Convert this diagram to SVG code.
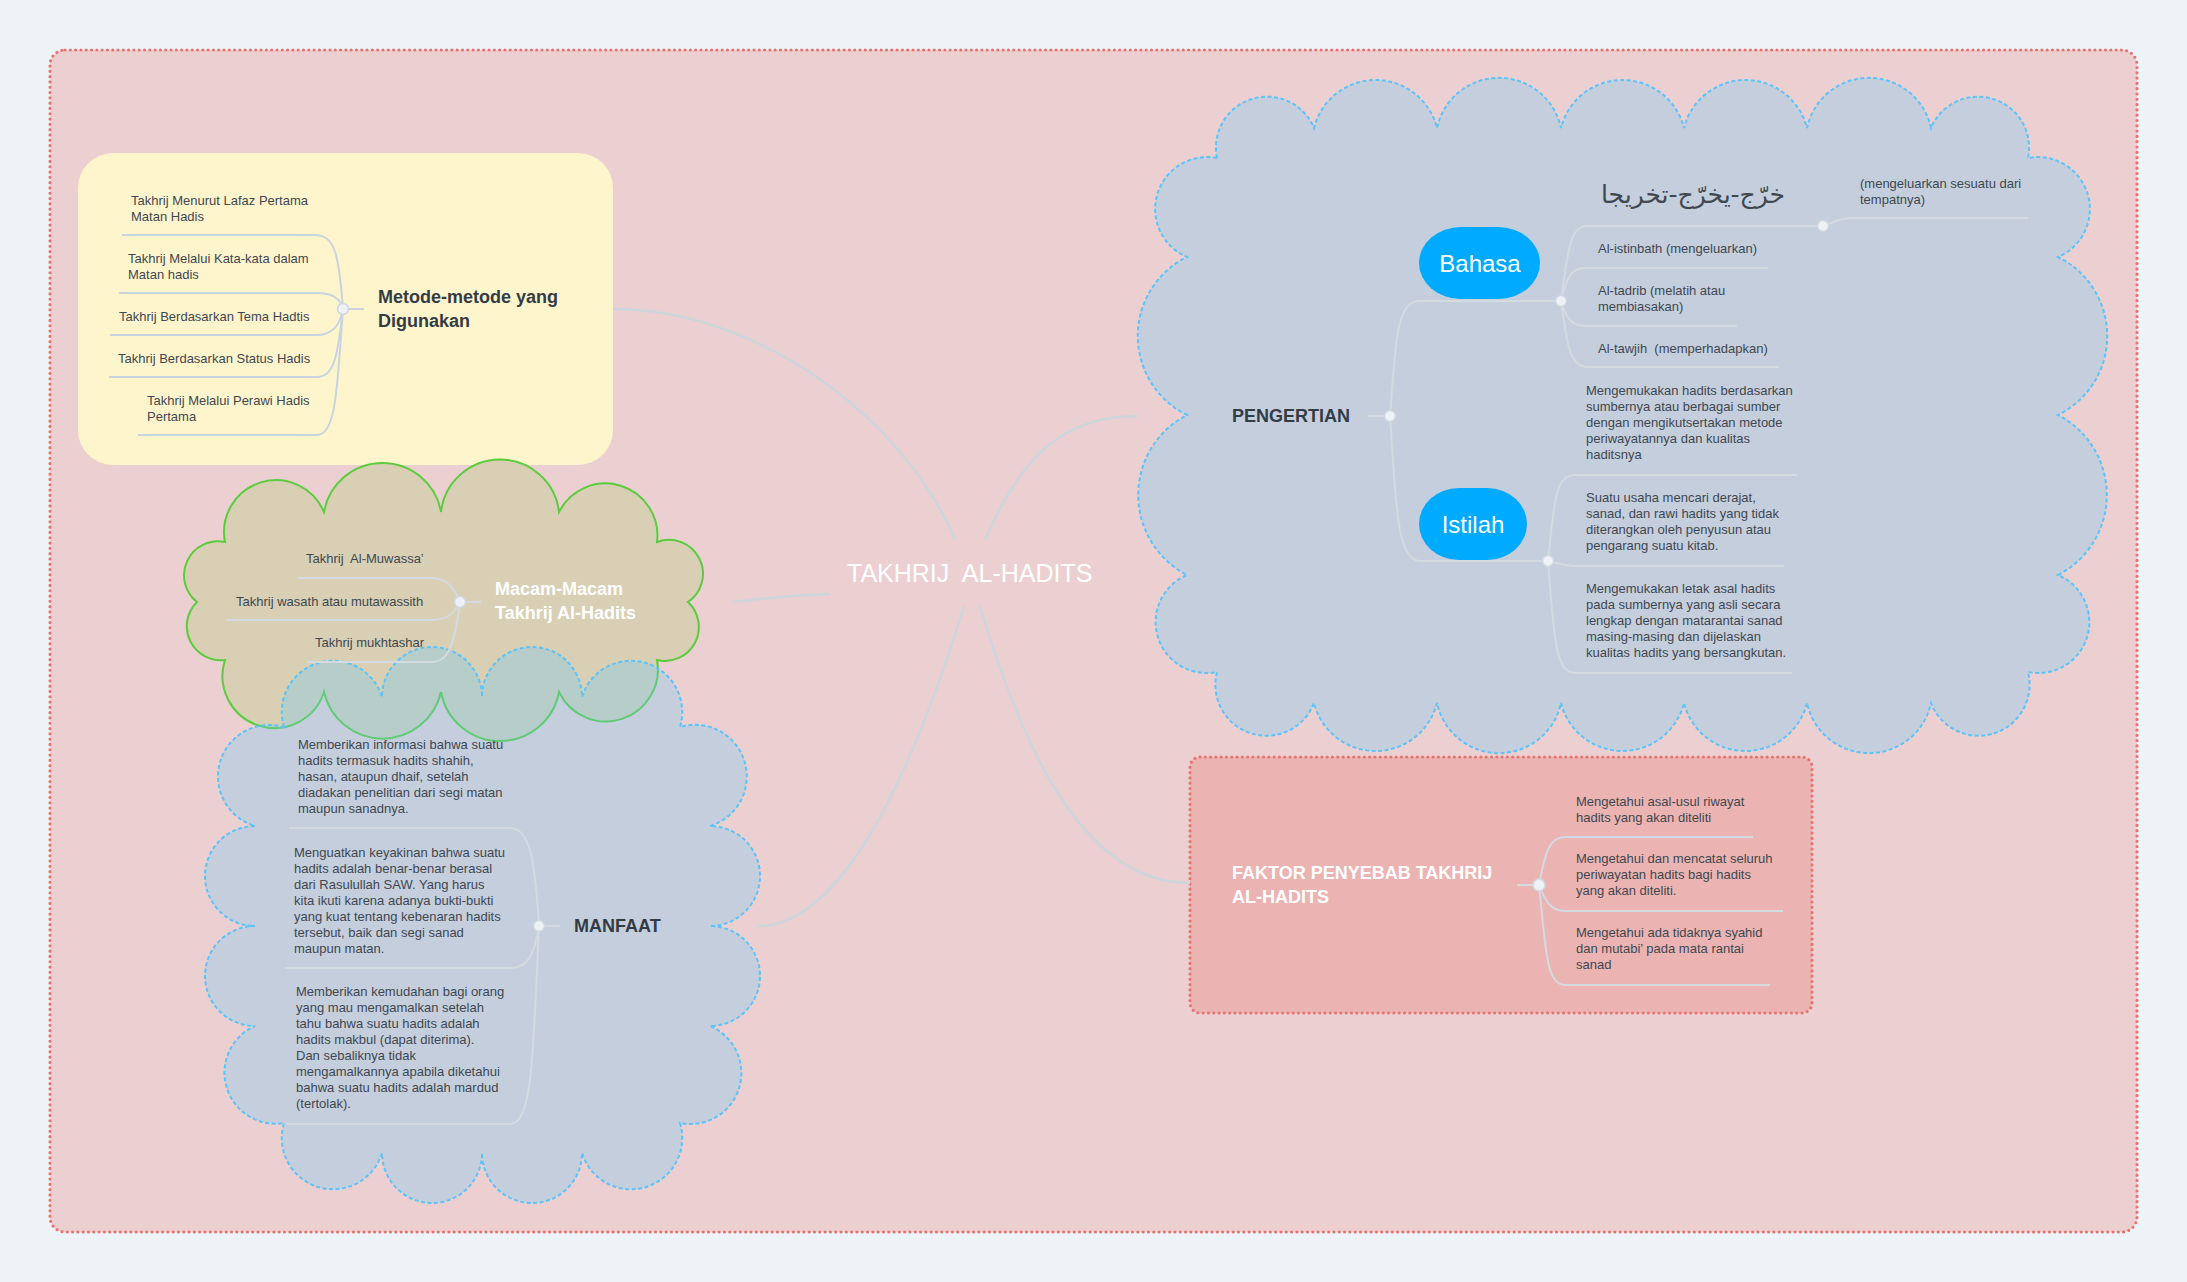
<svg xmlns="http://www.w3.org/2000/svg" width="2187" height="1282" viewBox="0 0 2187 1282">
<style>
.t{font-family:"Liberation Sans",Arial,sans-serif;font-size:13px;fill:#3f4850}
.b{font-family:"Liberation Sans",Arial,sans-serif;font-size:18px;font-weight:bold;fill:#323c45}
.bw{font-family:"Liberation Sans",Arial,sans-serif;font-size:18px;font-weight:bold;fill:#ffffff}
.pill{font-family:"Liberation Sans",Arial,sans-serif;font-size:24px;fill:#ffffff;text-anchor:middle}
.m{fill:none;stroke:#cdd6dd;stroke-width:2.5}
.c{fill:none;stroke:#d3dae0;stroke-width:2}
.cy{fill:none;stroke:#c9d4e1;stroke-width:2}
.j{fill:#eef2f6;stroke:#d0d8df;stroke-width:1.5}
.dot{stroke:#e8736f;stroke-width:3.2;stroke-dasharray:0 5.3;stroke-linecap:round}
.cloudb{fill:rgba(106,201,249,0.3);stroke:#5bc4fa;stroke-width:2;stroke-dasharray:4 2.5}
</style>
<rect x="0" y="0" width="2187" height="1282" fill="#eef3f7"/>
<rect id="canvas-boundary" class="dot" x="50" y="50" width="2087" height="1182" rx="15" fill="#ecd0d1"/>

<g id="boundary-metode"><rect x="78" y="153" width="535" height="312" rx="35" fill="#fff5cc"/></g>
<g id="boundary-macam"><path d="M225,542 A52 52 0 0 1 324,512 A59.4 59.4 0 0 1 441,512 A59.4 59.4 0 0 1 559,512 A52 52 0 0 1 657,542 A34 34 0 0 1 688,602 A34 34 0 0 1 657,660 A52 52 0 0 1 559,692 A60 60 0 0 1 441,692 A60 60 0 0 1 324,692 A52 52 0 0 1 225,660 A34 34 0 0 1 197,602 A34 34 0 0 1 225,542 Z" fill="#d8cfb5" stroke="#5ccc3f" stroke-width="2"/></g>
<g id="boundary-manfaat"><path class="cloudb" d="M284,727 A51 51 0 0 1 382,697 A50 50 0 0 1 482,697 A50 50 0 0 1 582,697 A51 51 0 0 1 680,727 A51 51 0 0 1 710,826 A50 50 0 0 1 710,926 A50 50 0 0 1 710,1026 A51 51 0 0 1 680,1123 A51 51 0 0 1 582,1153 A50 50 0 0 1 482,1153 A50 50 0 0 1 382,1153 A51 51 0 0 1 284,1123 A51 51 0 0 1 255,1026 A50 50 0 0 1 255,926 A50 50 0 0 1 255,826 A51 51 0 0 1 284,727 Z"/></g>
<g id="boundary-pengertian"><path class="cloudb" d="M1217,158 A51 51 0 0 1 1314,128 A63.4 63.4 0 0 1 1437,128 A63.4 63.4 0 0 1 1561,128 A63.4 63.4 0 0 1 1684,128 A63.4 63.4 0 0 1 1807,128 A63.4 63.4 0 0 1 1931,128 A51 51 0 0 1 2028,158 A52 52 0 0 1 2058,257 A88 88 0 0 1 2058,415 A90 90 0 0 1 2058,575 A51 51 0 0 1 2028,672 A51 51 0 0 1 1931,703 A63.4 63.4 0 0 1 1807,703 A63.4 63.4 0 0 1 1684,703 A63.4 63.4 0 0 1 1561,703 A63.4 63.4 0 0 1 1437,703 A63.4 63.4 0 0 1 1314,703 A51 51 0 0 1 1217,672 A51 51 0 0 1 1187,575 A90 90 0 0 1 1187,415 A88 88 0 0 1 1187,257 A52 52 0 0 1 1217,158 Z"/></g>
<g id="boundary-faktor"><rect class="dot" x="1190" y="757" width="622" height="256" rx="10" fill="#ebb4b2"/></g>

<g id="connectors">
<path class="m" d="M955,540 C905,420 760,309 613,309"/>
<path class="m" d="M830,594 Q780,596 733,602"/>
<path class="m" d="M964,606 C935,700 860,926 758,926"/>
<path class="m" d="M985,540 C1020,460 1060,416 1138,416"/>
<path class="m" d="M980,606 C1020,740 1080,883 1190,883"/>

<path class="cy" d="M343,309 L364,309"/>
<path class="cy" d="M343,309 C339,255 335,235 315,235 L122,235"/>
<path class="cy" d="M343,309 C341,300 335,293 317,293 L119,293"/>
<path class="cy" d="M343,309 C340,325 333,335 317,335 L110,335"/>
<path class="cy" d="M343,309 C338,350 336,377 317,377 L109,377"/>
<path class="cy" d="M343,309 C337,390 336,435 317,435 L138,435"/>

<path class="c" d="M460,602 L481,602"/>
<path class="c" d="M460,602 C455,590 448,578 432,578 L298,578"/>
<path class="c" d="M460,602 C455,612 448,620 432,620 L227,620"/>
<path class="c" d="M460,602 C455,640 450,662 432,662 L307,662"/>

<path class="c" d="M539,926 L560,926"/>
<path class="c" d="M539,926 C535,860 530,828 510,828 L289,828"/>
<path class="c" d="M539,926 C535,950 530,968 510,968 L285,968"/>
<path class="c" d="M539,926 C533,1060 532,1124 510,1124 L287,1124"/>

<path class="c" d="M1368,416 L1390,416"/>
<path class="c" d="M1390,416 C1396,340 1396,301 1420,301 L1561,301"/>
<path class="c" d="M1390,416 C1396,500 1396,561 1420,561 L1548,561"/>

<path class="c" d="M1561,301 C1568,250 1570,226 1587,226 L1823,226"/>
<path class="c" d="M1561,301 C1566,280 1570,268 1585,268 L1768,268"/>
<path class="c" d="M1561,301 C1566,316 1570,326 1585,326 L1737,326"/>
<path class="c" d="M1561,301 C1567,345 1570,367 1587,367 L1779,367"/>
<path class="c" d="M1823,226 C1835,222 1840,218 1852,218 L2028,218"/>

<path class="c" d="M1548,561 C1554,500 1556,475 1575,475 L1797,475"/>
<path class="c" d="M1548,561 C1560,563 1565,566 1577,566 L1784,566"/>
<path class="c" d="M1548,561 C1554,640 1556,673 1575,673 L1792,673"/>

<path class="c" d="M1517,885 L1539,885"/>
<path class="c" d="M1539,885 C1545,855 1548,837 1565,837 L1753,837"/>
<path class="c" d="M1539,885 C1545,900 1550,911 1565,911 L1783,911"/>
<path class="c" d="M1539,885 C1546,950 1546,985 1565,985 L1770,985"/>

<circle class="j" cx="343" cy="309" r="5.5"/>
<circle class="j" cx="460" cy="602" r="5.5"/>
<circle class="j" cx="539" cy="926" r="5.5"/>
<circle class="j" cx="1390" cy="416" r="5.5"/>
<circle class="j" cx="1561" cy="301" r="5.5"/>
<circle class="j" cx="1823" cy="226" r="5.5"/>
<circle class="j" cx="1548" cy="561" r="5.5"/>
<circle class="j" cx="1539" cy="885" r="6"/>
</g>

<g id="central"><text x="847" y="582" xml:space="preserve" font-family="Liberation Sans, Arial, sans-serif" font-size="25" fill="#ffffff">TAKHRIJ  AL-HADITS</text></g>

<g id="metode"><text class="b"><tspan x="378" y="303">Metode-metode yang</tspan><tspan x="378" y="327">Digunakan</tspan></text></g>
<g id="metode-1"><text class="t"><tspan x="131" y="205">Takhrij Menurut Lafaz Pertama</tspan><tspan x="131" y="221">Matan Hadis</tspan></text></g>
<g id="metode-2"><text class="t"><tspan x="128" y="263">Takhrij Melalui Kata-kata dalam</tspan><tspan x="128" y="279">Matan hadis</tspan></text></g>
<g id="metode-3"><text class="t" x="119" y="321">Takhrij Berdasarkan Tema Hadtis</text></g>
<g id="metode-4"><text class="t" x="118" y="363">Takhrij Berdasarkan Status Hadis</text></g>
<g id="metode-5"><text class="t"><tspan x="147" y="405">Takhrij Melalui Perawi Hadis</tspan><tspan x="147" y="421">Pertama</tspan></text></g>

<g id="macam"><text class="bw"><tspan x="495" y="595">Macam-Macam</tspan><tspan x="495" y="619">Takhrij Al-Hadits</tspan></text></g>
<g id="macam-1"><text class="t" x="306" y="563" xml:space="preserve">Takhrij  Al-Muwassa’</text></g>
<g id="macam-2"><text class="t" x="236" y="606">Takhrij wasath atau mutawassith</text></g>
<g id="macam-3"><text class="t" x="315" y="647">Takhrij mukhtashar</text></g>

<g id="manfaat"><text class="b" x="574" y="932">MANFAAT</text></g>
<g id="manfaat-1"><text class="t"><tspan x="298" y="749">Memberikan informasi bahwa suatu</tspan><tspan x="298" y="765">hadits termasuk hadits shahih,</tspan><tspan x="298" y="781">hasan, ataupun dhaif, setelah</tspan><tspan x="298" y="797">diadakan penelitian dari segi matan</tspan><tspan x="298" y="813">maupun sanadnya.</tspan></text></g>
<g id="manfaat-2"><text class="t"><tspan x="294" y="857">Menguatkan keyakinan bahwa suatu</tspan><tspan x="294" y="873">hadits adalah benar-benar berasal</tspan><tspan x="294" y="889">dari Rasulullah SAW. Yang harus</tspan><tspan x="294" y="905">kita ikuti karena adanya bukti-bukti</tspan><tspan x="294" y="921">yang kuat tentang kebenaran hadits</tspan><tspan x="294" y="937">tersebut, baik dan segi sanad</tspan><tspan x="294" y="953">maupun matan.</tspan></text></g>
<g id="manfaat-3"><text class="t"><tspan x="296" y="996">Memberikan kemudahan bagi orang</tspan><tspan x="296" y="1012">yang mau mengamalkan setelah</tspan><tspan x="296" y="1028">tahu bahwa suatu hadits adalah</tspan><tspan x="296" y="1044">hadits makbul (dapat diterima).</tspan><tspan x="296" y="1060">Dan sebaliknya tidak</tspan><tspan x="296" y="1076">mengamalkannya apabila diketahui</tspan><tspan x="296" y="1092">bahwa suatu hadits adalah mardud</tspan><tspan x="296" y="1108">(tertolak).</tspan></text></g>

<g id="pengertian"><text class="b" x="1232" y="422">PENGERTIAN</text></g>
<g id="bahasa"><rect x="1419" y="227" width="121" height="72" rx="42" ry="36" fill="#00aaff"/><text class="pill" x="1480" y="272">Bahasa</text></g>
<g id="bahasa-arab"><text x="1785" y="203" text-anchor="end" font-family="DejaVu Sans, sans-serif" font-size="25" fill="#3f4850">خرّج-يخرّج-تخريجا</text></g>
<g id="bahasa-arab-arti"><text class="t"><tspan x="1860" y="188">(mengeluarkan sesuatu dari</tspan><tspan x="1860" y="204">tempatnya)</tspan></text></g>
<g id="bahasa-2"><text class="t" x="1598" y="253">Al-istinbath (mengeluarkan)</text></g>
<g id="bahasa-3"><text class="t"><tspan x="1598" y="295">Al-tadrib (melatih atau</tspan><tspan x="1598" y="311">membiasakan)</tspan></text></g>
<g id="bahasa-4"><text class="t" x="1598" y="353" xml:space="preserve">Al-tawjih  (memperhadapkan)</text></g>
<g id="istilah"><rect x="1419" y="488" width="108" height="72" rx="40" ry="36" fill="#00aaff"/><text class="pill" x="1473" y="533">Istilah</text></g>
<g id="istilah-1"><text class="t"><tspan x="1586" y="395">Mengemukakan hadits berdasarkan</tspan><tspan x="1586" y="411">sumbernya atau berbagai sumber</tspan><tspan x="1586" y="427">dengan mengikutsertakan metode</tspan><tspan x="1586" y="443">periwayatannya dan kualitas</tspan><tspan x="1586" y="459">haditsnya</tspan></text></g>
<g id="istilah-2"><text class="t"><tspan x="1586" y="502">Suatu usaha mencari derajat,</tspan><tspan x="1586" y="518">sanad, dan rawi hadits yang tidak</tspan><tspan x="1586" y="534">diterangkan oleh penyusun atau</tspan><tspan x="1586" y="550">pengarang suatu kitab.</tspan></text></g>
<g id="istilah-3"><text class="t"><tspan x="1586" y="593">Mengemukakan letak asal hadits</tspan><tspan x="1586" y="609">pada sumbernya yang asli secara</tspan><tspan x="1586" y="625">lengkap dengan matarantai sanad</tspan><tspan x="1586" y="641">masing-masing dan dijelaskan</tspan><tspan x="1586" y="657">kualitas hadits yang bersangkutan.</tspan></text></g>

<g id="faktor"><text class="bw"><tspan x="1232" y="879">FAKTOR PENYEBAB TAKHRIJ</tspan><tspan x="1232" y="903">AL-HADITS</tspan></text></g>
<g id="faktor-1"><text class="t"><tspan x="1576" y="806">Mengetahui asal-usul riwayat</tspan><tspan x="1576" y="822">hadits yang akan diteliti</tspan></text></g>
<g id="faktor-2"><text class="t"><tspan x="1576" y="863">Mengetahui dan mencatat seluruh</tspan><tspan x="1576" y="879">periwayatan hadits bagi hadits</tspan><tspan x="1576" y="895">yang akan diteliti.</tspan></text></g>
<g id="faktor-3"><text class="t"><tspan x="1576" y="937">Mengetahui ada tidaknya syahid</tspan><tspan x="1576" y="953">dan mutabi’ pada mata rantai</tspan><tspan x="1576" y="969">sanad</tspan></text></g>
</svg>
